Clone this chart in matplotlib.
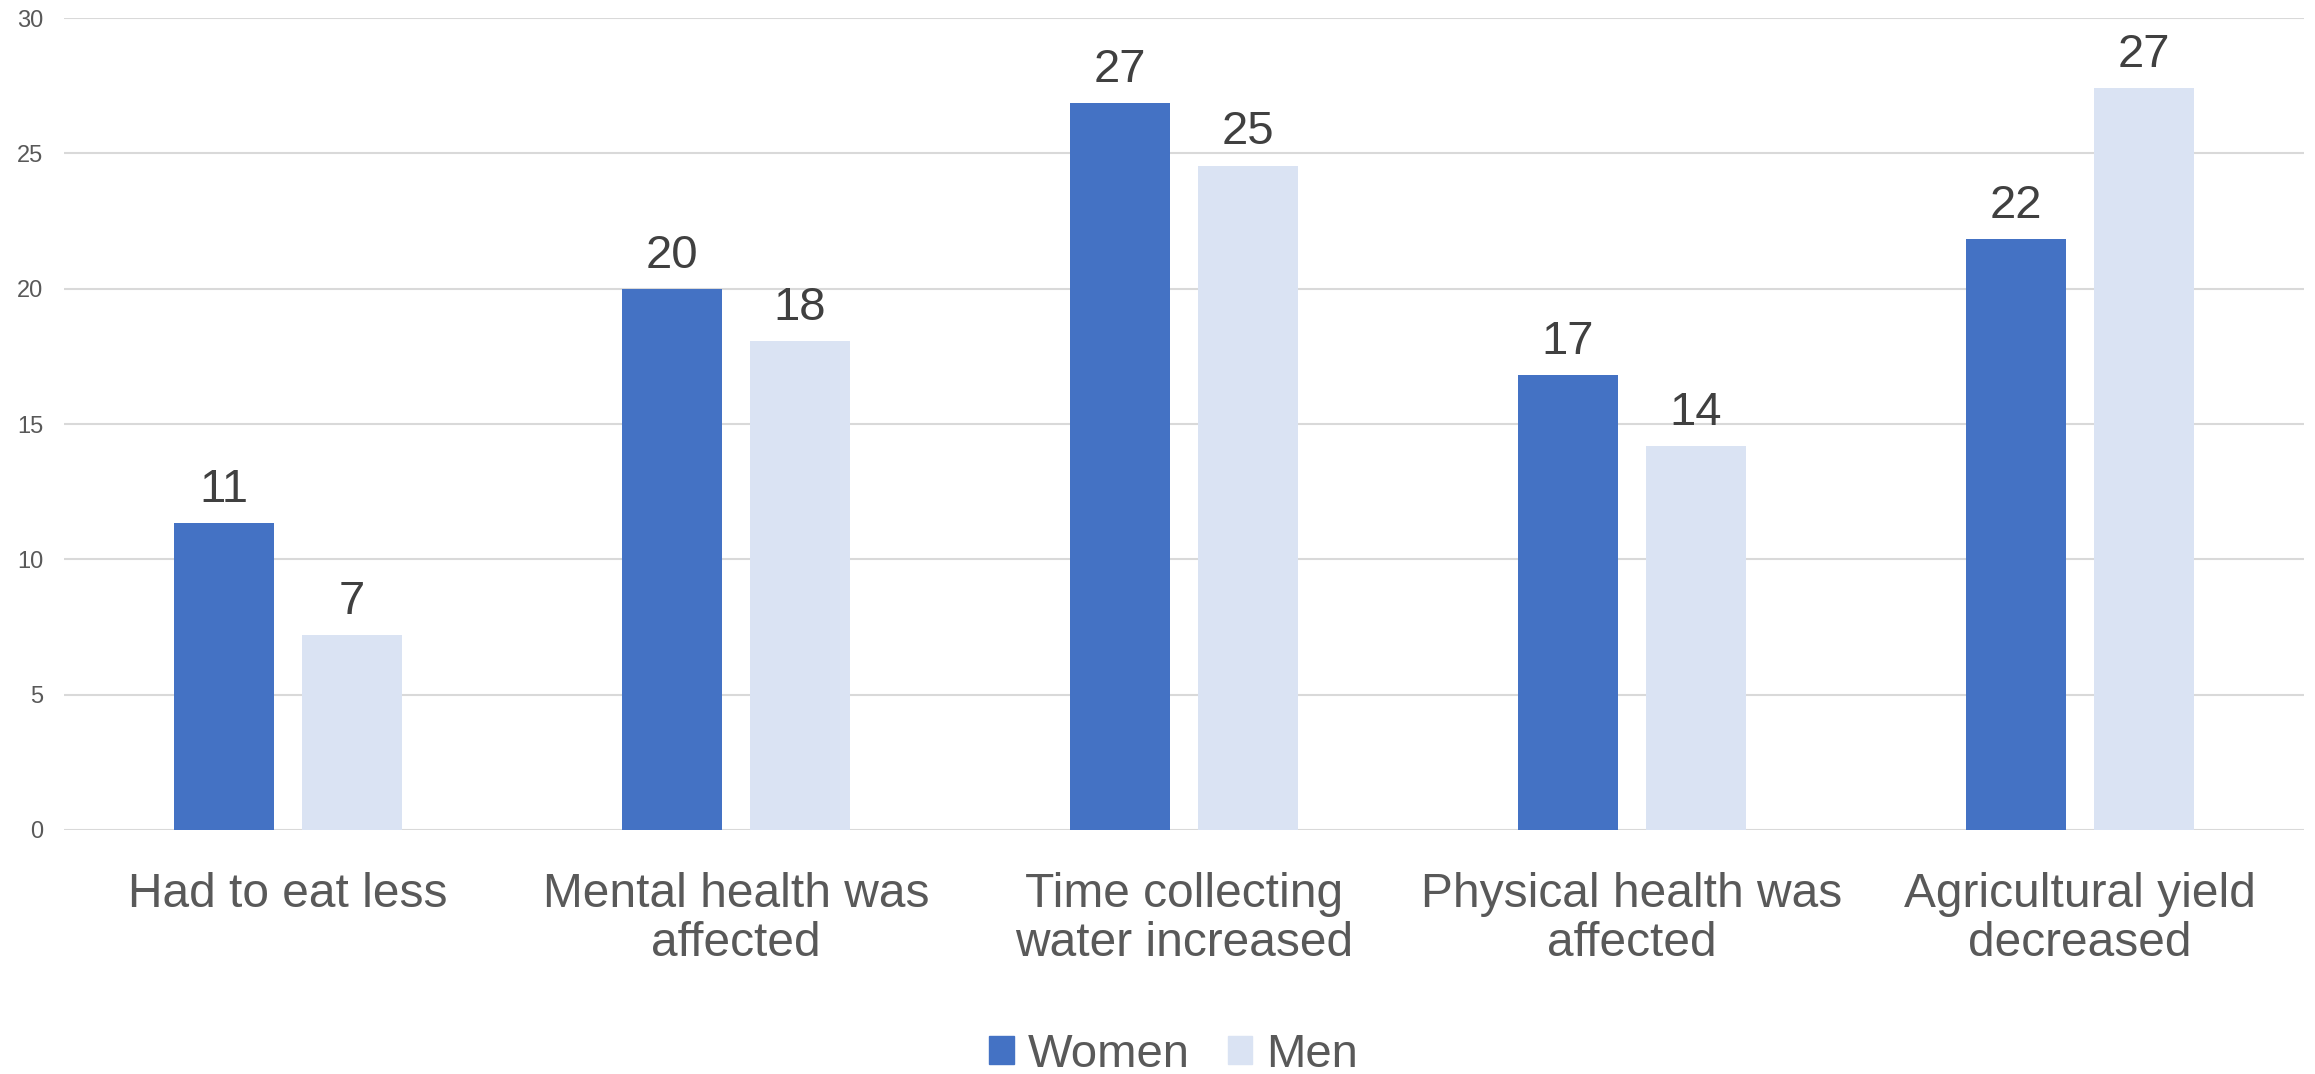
import numpy as np
import matplotlib
matplotlib.use("Agg")
from matplotlib import pyplot as plt
from matplotlib.patches import Patch

# data
categories = ["Had to eat less", "Mental health was\naffected", "Time collecting\nwater increased",
              "Physical health was\naffected", "Agricultural yield\ndecreased"]
women = [11.35, 19.98, 26.85, 16.8, 21.85]
men = [7.2, 18.05, 24.55, 14.2, 27.4]
women_labels = ["11", "20", "27", "17", "22"]
men_labels = ["7", "18", "25", "14", "27"]
y_ticks = [0, 5, 10, 15, 20, 25, 30]

WOMEN_COLOR = "#4472C4"
MEN_COLOR = "#DAE3F3"
TEXT_COLOR = "#595959"
LABEL_COLOR = "#404040"
GRID_COLOR = "#D9D9D9"

plt.rcParams['font.family'] = ['Liberation Sans', 'DejaVu Sans']

fig = plt.figure(figsize=(23.15, 10.74), dpi=100)
ax = fig.add_axes([0.02765, 0.2272, 0.9676, 0.7560])

x = np.arange(len(categories))
bar_w = 0.223
offset = 0.143

women_bars = ax.bar(x - offset, women, width=bar_w, color=WOMEN_COLOR, zorder=3)
men_bars = ax.bar(x + offset, men, width=bar_w, color=MEN_COLOR, zorder=3)

ax.bar_label(women_bars, labels=women_labels, padding=8, fontsize=34, color=LABEL_COLOR)
ax.bar_label(men_bars, labels=men_labels, padding=8, fontsize=34, color=LABEL_COLOR)

ax.set_xlim(-0.5, len(categories) - 0.5)
ax.set_ylim(0, 30)
ax.set_yticks(y_ticks)
ax.set_yticklabels([str(t) for t in y_ticks], fontsize=17, color=TEXT_COLOR)
ax.set_xticks(x)
ax.set_xticklabels(categories, fontsize=34.5, color=TEXT_COLOR, linespacing=1.13)

ax.tick_params(axis='y', length=0, pad=15)
ax.tick_params(axis='x', length=0, pad=30)
for spine in ax.spines.values():
    spine.set_visible(False)
ax.yaxis.grid(True, color=GRID_COLOR, linewidth=1.5, zorder=0)
ax.set_axisbelow(True)

handles = [Patch(color=WOMEN_COLOR, label="Women"), Patch(color=MEN_COLOR, label="Men")]
fig.legend(handles=handles, loc='center', bbox_to_anchor=(0.507, 0.018), ncol=2, frameon=False,
           fontsize=34, labelcolor=TEXT_COLOR, handlelength=0.52, handleheight=0.52,
           handletextpad=0.3, columnspacing=0.8, borderpad=0)

fig.savefig("out.png", dpi=100)
